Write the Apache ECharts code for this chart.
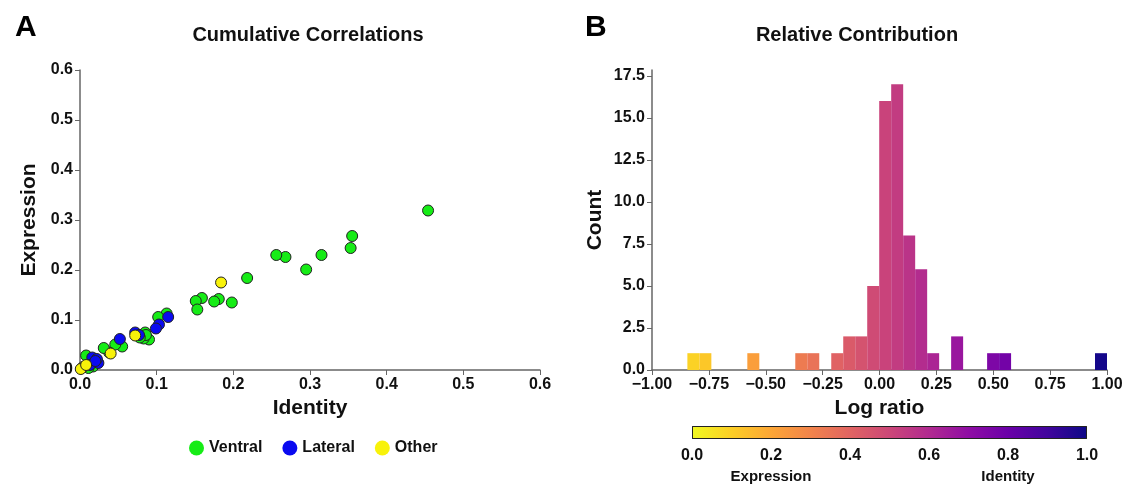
<!DOCTYPE html>
<html>
<head>
<meta charset="utf-8">
<script src="https://cdn.jsdelivr.net/npm/echarts@6/dist/echarts.min.js"></script>
<style>
  html, body { margin: 0; background: #fff; }
  #chart { width: 1136px; height: 487px; }
</style>
</head>
<body>
<div id="chart"></div>
<script>
// scatter data [identity, expression]
var ventral = [
  [0.454, 0.319], [0.355, 0.268], [0.353, 0.244], [0.315, 0.230], [0.295, 0.201],
  [0.268, 0.226], [0.256, 0.230], [0.218, 0.184], [0.198, 0.135], [0.181, 0.142],
  [0.175, 0.137], [0.159, 0.144], [0.151, 0.138], [0.153, 0.121], [0.113, 0.113],
  [0.102, 0.106], [0.090, 0.061], [0.085, 0.075], [0.083, 0.063], [0.086, 0.070],
  [0.078, 0.065], [0.055, 0.047], [0.046, 0.051], [0.038, 0.035], [0.031, 0.044],
  [0.008, 0.029], [0.012, 0.008], [0.017, 0.007], [0.011, 0.004]
];
var lateral = [
  [0.115, 0.106], [0.103, 0.091], [0.099, 0.083], [0.072, 0.075], [0.077, 0.070],
  [0.052, 0.062], [0.024, 0.014], [0.016, 0.025], [0.022, 0.022], [0.013, 0.010],
  [0.020, 0.018]
];
var other = [
  [0.184, 0.175], [0.072, 0.069], [0.040, 0.033], [0.004, 0.006], [0.001, 0.002],
  [0.008, 0.010]
];

// histogram of log ratio: 35 bins
var binStart = -0.8445;
var binWidth = 0.0527;
var counts = [1, 1, 0, 0, 0, 1, 0, 0, 0, 1, 1, 0, 1, 2, 2, 5, 16, 17, 8, 6,
              1, 0, 2, 0, 0, 1, 1, 0, 0, 0, 0, 0, 0, 0, 1];
var countTicks = [0, 2.5, 5, 7.5, 10, 12.5, 15, 17.5];

// plasma colormap, reversed (0 = yellow, 1 = dark blue)
var plasmaR = ['#f0f921', '#fcce25', '#fca636', '#f2844b', '#e16462', '#cc4778',
               '#b12a90', '#8f0da4', '#6a00a8', '#41049d', '#0d0887'];

var histData = [];
counts.forEach(function (c, i) {
  if (!c) return;
  var x0 = binStart + i * binWidth;
  histData.push([x0, x0 + binWidth, c, x0 + binWidth / 2]);
});

var myChart = echarts.init(document.getElementById('chart'));
var font = 'Liberation Sans, Arial, sans-serif';
var axisGrey = '#666';

function tickLabel(size) {
  return { color: '#111', fontSize: size, fontWeight: 'bold', fontFamily: font };
}
function nameStyle() {
  return { color: '#111', fontSize: 21, fontWeight: 'bold', fontFamily: font };
}
function fmtMinus(v, d) {
  var s = Math.abs(v).toFixed(d);
  return v < -1e-9 ? '\u2212' + s : s;
}

var option = {
  backgroundColor: '#fff',
  textStyle: { fontFamily: font },
  title: [
    { text: 'A', left: 10, top: 8, textStyle: { fontSize: 30, fontWeight: 'bold', color: '#000', fontFamily: font } },
    { text: 'Cumulative Correlations', left: 303, top: 20, textAlign: 'center',
      textStyle: { fontSize: 20, fontWeight: 'bold', color: '#111', fontFamily: font } },
    { text: 'B', left: 580, top: 8, textStyle: { fontSize: 30, fontWeight: 'bold', color: '#000', fontFamily: font } },
    { text: 'Relative Contribution', left: 852, top: 20, textAlign: 'center',
      textStyle: { fontSize: 20, fontWeight: 'bold', color: '#111', fontFamily: font } }
  ],
  legend: {
    data: ['Ventral', 'Lateral', 'Other'],
    left: 184, top: 435,
    icon: 'circle', itemWidth: 15, itemHeight: 15, itemGap: 20,
    itemStyle: { borderWidth: 0 },
    textStyle: { fontSize: 16, fontWeight: 'bold', color: '#111', fontFamily: font }
  },
  visualMap: {
    show: false, type: 'continuous', seriesIndex: 3, dimension: 3,
    min: -1, max: 1, inRange: { color: plasmaR }
  },
  grid: [
    { left: 80, top: 70, width: 460, height: 300 },
    { left: 652, top: 70, width: 455, height: 300 },
    { left: 692, top: 426, width: 395, height: 19 }
  ],
  xAxis: [
    {
      gridIndex: 0, type: 'value', min: 0, max: 0.6, interval: 0.1,
      name: 'Identity', nameLocation: 'middle', nameGap: 28, nameTextStyle: nameStyle(),
      axisLine: { lineStyle: { color: axisGrey, width: 1.5 } },
      axisTick: { length: 5, lineStyle: { color: axisGrey } },
      splitLine: { show: false },
      axisLabel: Object.assign(tickLabel(16), { margin: 7, formatter: function (v) { return v.toFixed(1); } })
    },
    {
      gridIndex: 1, type: 'value', min: -1, max: 1, interval: 0.25,
      name: 'Log ratio', nameLocation: 'middle', nameGap: 28, nameTextStyle: nameStyle(),
      axisLine: { lineStyle: { color: axisGrey, width: 1.5 } },
      axisTick: { length: 5, lineStyle: { color: axisGrey } },
      splitLine: { show: false },
      axisLabel: Object.assign(tickLabel(16), { margin: 7, formatter: function (v) { return fmtMinus(v, 2); } })
    },
    {
      gridIndex: 2, type: 'value', min: 0, max: 1, interval: 0.2,
      axisLine: { show: false },
      axisTick: { length: 4, lineStyle: { color: '#333' } },
      splitLine: { show: false },
      axisLabel: Object.assign(tickLabel(16), {
        margin: 6, lineHeight: 21,
        formatter: function (v) {
          var s = v.toFixed(1);
          if (Math.abs(v - 0.2) < 1e-6) return s + '\n{n|Expression}';
          if (Math.abs(v - 0.8) < 1e-6) return s + '\n{n|Identity}';
          return s;
        },
        rich: { n: { fontSize: 15, fontWeight: 'bold', color: '#111', fontFamily: font, lineHeight: 21 } }
      })
    }
  ],
  yAxis: [
    {
      gridIndex: 0, type: 'value', min: 0, max: 0.6, interval: 0.1,
      name: 'Expression', nameLocation: 'middle', nameGap: 40, nameTextStyle: nameStyle(),
      axisLine: { show: true, onZero: false, lineStyle: { color: axisGrey, width: 1.5 } },
      axisTick: { show: true, length: 5, lineStyle: { color: axisGrey } },
      splitLine: { show: false },
      axisLabel: Object.assign(tickLabel(16), { margin: 7, formatter: function (v) { return v.toFixed(1); } })
    },
    {
      gridIndex: 1, type: 'value', min: 0, max: 17.85,
      name: 'Count', nameLocation: 'middle', nameGap: 46, nameTextStyle: nameStyle(),
      axisLine: { show: true, onZero: false, lineStyle: { color: axisGrey, width: 1.5 } },
      axisTick: { show: true, length: 5, lineStyle: { color: axisGrey }, customValues: countTicks },
      splitLine: { show: false },
      axisLabel: Object.assign(tickLabel(16), { margin: 7, customValues: countTicks,
        formatter: function (v) { return v.toFixed(1); } })
    },
    {
      gridIndex: 2, type: 'category', data: ['cb'], show: false
    }
  ],
  series: [
    {
      name: 'Ventral', type: 'scatter', xAxisIndex: 0, yAxisIndex: 0, symbolSize: 11,
      itemStyle: { color: '#16ec16', borderColor: '#222', borderWidth: 1, opacity: 1 },
      data: ventral
    },
    {
      name: 'Lateral', type: 'scatter', xAxisIndex: 0, yAxisIndex: 0, symbolSize: 11,
      itemStyle: { color: '#0a0af0', borderColor: '#222', borderWidth: 1, opacity: 1 },
      data: lateral
    },
    {
      name: 'Other', type: 'scatter', xAxisIndex: 0, yAxisIndex: 0, symbolSize: 11,
      itemStyle: { color: '#f8f20a', borderColor: '#222', borderWidth: 1, opacity: 1 },
      data: other
    },
    {
      name: 'hist', type: 'custom', xAxisIndex: 1, yAxisIndex: 1,
      encode: { x: [0, 1], y: 2 },
      renderItem: function (params, api) {
        var p0 = api.coord([api.value(0), api.value(2)]);
        var p1 = api.coord([api.value(1), 0]);
        return {
          type: 'rect',
          shape: { x: p0[0], y: p0[1], width: p1[0] - p0[0], height: p1[1] - p0[1] },
          style: { fill: api.visual('color') }
        };
      },
      data: histData
    },
    {
      name: 'colorbar', type: 'bar', xAxisIndex: 2, yAxisIndex: 2, barWidth: '100%',
      silent: true,
      itemStyle: {
        borderColor: '#222', borderWidth: 1,
        color: new echarts.graphic.LinearGradient(0, 0, 1, 0, plasmaR.map(function (c, i) {
          return { offset: i / (plasmaR.length - 1), color: c };
        }))
      },
      data: [1]
    }
  ]
};

myChart.setOption(option);
</script>
</body>
</html>
